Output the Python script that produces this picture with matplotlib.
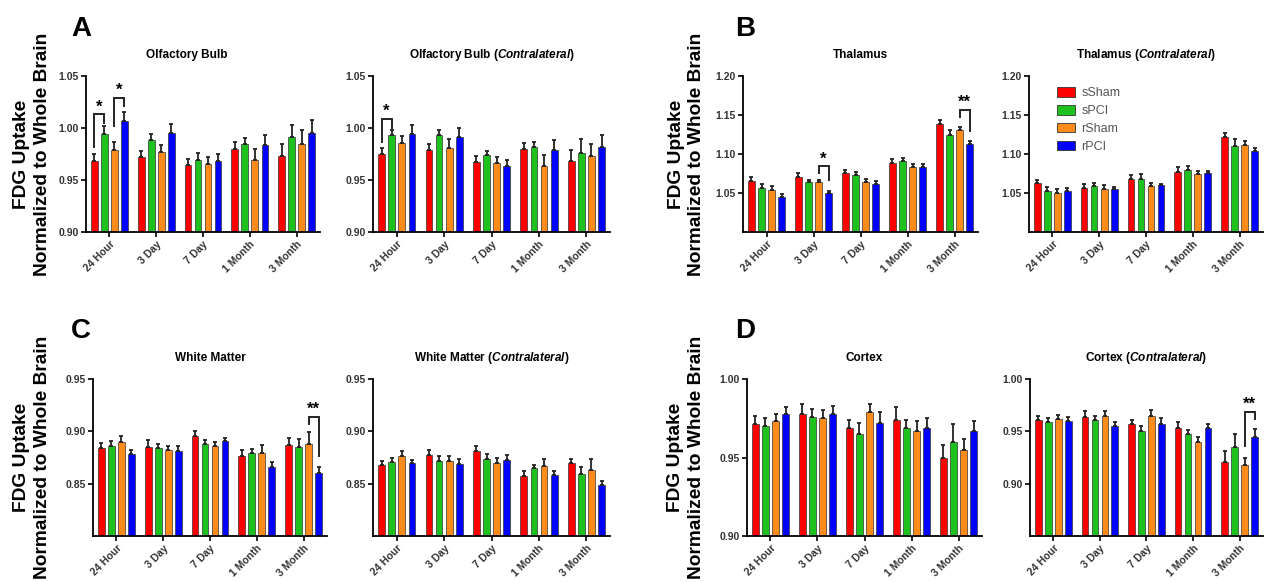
import numpy as np
import matplotlib
matplotlib.use("Agg")
import matplotlib.pyplot as plt
from matplotlib.patches import Patch

plt.rcParams['font.family'] = ['Liberation Sans', 'DejaVu Sans']
plt.rcParams['mathtext.fontset'] = 'custom'
plt.rcParams['mathtext.rm'] = 'Liberation Sans:bold'
plt.rcParams['mathtext.it'] = 'Liberation Sans:italic:bold'

groups = ['24 Hour', '3 Day', '7 Day', '1 Month', '3 Month']
series = ['sSham', 'sPCI', 'rSham', 'rPCI']
colors = ['#ff0000', '#1ec21e', '#ff8c1a', '#0000ff']

# Olfactory bulb
olf_mean = [[0.968, 0.972, 0.964, 0.980, 0.973],
            [0.994, 0.988, 0.969, 0.985, 0.991],
            [0.979, 0.977, 0.965, 0.969, 0.985],
            [1.007, 0.995, 0.968, 0.984, 0.995]]
olf_err = [[0.007, 0.006, 0.006, 0.007, 0.012],
           [0.008, 0.006, 0.007, 0.005, 0.012],
           [0.008, 0.007, 0.007, 0.011, 0.013],
           [0.008, 0.009, 0.007, 0.009, 0.013]]
olf_c_mean = [[0.975, 0.979, 0.967, 0.980, 0.968],
              [0.993, 0.993, 0.974, 0.982, 0.976],
              [0.986, 0.981, 0.966, 0.963, 0.973],
              [0.994, 0.991, 0.963, 0.979, 0.982]]
olf_c_err = [[0.006, 0.006, 0.006, 0.006, 0.011],
             [0.005, 0.005, 0.004, 0.005, 0.013],
             [0.006, 0.008, 0.006, 0.011, 0.012],
             [0.009, 0.009, 0.006, 0.009, 0.011]]

# Thalamus
thal_mean = [[1.066, 1.071, 1.075, 1.089, 1.138],
             [1.057, 1.064, 1.073, 1.091, 1.124],
             [1.054, 1.064, 1.064, 1.083, 1.131],
             [1.045, 1.050, 1.062, 1.083, 1.113]]
thal_err = [[0.005, 0.004, 0.004, 0.004, 0.005],
            [0.005, 0.003, 0.004, 0.004, 0.007],
            [0.005, 0.003, 0.004, 0.004, 0.004],
            [0.004, 0.003, 0.004, 0.004, 0.004]]
thal_c_mean = [[1.063, 1.056, 1.068, 1.077, 1.122],
               [1.053, 1.059, 1.068, 1.080, 1.110],
               [1.050, 1.055, 1.059, 1.074, 1.111],
               [1.053, 1.055, 1.060, 1.075, 1.104]]
thal_c_err = [[0.004, 0.005, 0.005, 0.006, 0.005],
              [0.005, 0.004, 0.006, 0.004, 0.009],
              [0.005, 0.005, 0.004, 0.004, 0.006],
              [0.004, 0.003, 0.002, 0.003, 0.004]]

# White matter
wm_mean = [[0.884, 0.885, 0.896, 0.876, 0.887],
           [0.886, 0.884, 0.888, 0.879, 0.885],
           [0.890, 0.882, 0.886, 0.879, 0.888],
           [0.878, 0.881, 0.891, 0.866, 0.860]]
wm_err = [[0.005, 0.007, 0.004, 0.006, 0.007],
          [0.005, 0.004, 0.004, 0.004, 0.008],
          [0.006, 0.004, 0.004, 0.008, 0.011],
          [0.004, 0.005, 0.003, 0.005, 0.006]]
wm_c_mean = [[0.868, 0.877, 0.881, 0.857, 0.870],
             [0.871, 0.872, 0.874, 0.865, 0.859],
             [0.876, 0.872, 0.870, 0.867, 0.863],
             [0.870, 0.869, 0.873, 0.858, 0.849]]
wm_c_err = [[0.004, 0.005, 0.005, 0.005, 0.004],
            [0.004, 0.004, 0.004, 0.003, 0.007],
            [0.005, 0.004, 0.005, 0.007, 0.011],
            [0.003, 0.005, 0.004, 0.004, 0.004]]

# Cortex
ctx_mean = [[0.9715, 0.978, 0.969, 0.974, 0.9495],
            [0.970, 0.976, 0.965, 0.969, 0.960],
            [0.973, 0.975, 0.979, 0.967, 0.955],
            [0.978, 0.978, 0.972, 0.969, 0.967]]
ctx_err = [[0.005, 0.006, 0.005, 0.008, 0.0085],
           [0.005, 0.005, 0.007, 0.005, 0.0115],
           [0.005, 0.005, 0.005, 0.006, 0.0065],
           [0.004, 0.005, 0.007, 0.006, 0.006]]
ctx_c_mean = [[0.9605, 0.964, 0.957, 0.953, 0.921],
              [0.959, 0.9605, 0.950, 0.9475, 0.935],
              [0.962, 0.965, 0.965, 0.940, 0.9175],
              [0.9596, 0.955, 0.957, 0.953, 0.9446]]
ctx_c_err = [[0.004, 0.005, 0.004, 0.006, 0.0105],
             [0.004, 0.004, 0.005, 0.004, 0.012],
             [0.004, 0.004, 0.005, 0.005, 0.0075],
             [0.004, 0.004, 0.006, 0.004, 0.008]]

# brackets: group, bar a, bar b, y leg a, y leg b, y top, label
olf_sig = [(0, 0, 1, 0.982, 1.005, 1.013, '*'), (0, 2, 3, 1.002, 1.021, 1.029, '*')]
olf_c_sig = [(0, 0, 1, 0.987, 1.000, 1.0086, '*')]
thal_sig = [(1, 2, 3, 1.076, 1.067, 1.084, '*'), (4, 2, 3, 1.147, 1.130, 1.157, '**')]
wm_sig = [(4, 2, 3, 0.907, 0.876, 0.914, '**')]
ctx_c_sig = [(4, 2, 3, 0.936, 0.962, 0.9685, '**')]

pitch = 0.214
width = 0.143

fig = plt.figure(figsize=(12.65, 5.82), dpi=100)


def panel(rect, title, means, errs, ylim, yticks, sig=None, title_x=0.5):
    ax = fig.add_axes(rect)
    x = np.arange(len(groups))
    for i in range(len(series)):
        xs = x + (i - 1.5) * pitch
        ax.bar(xs, means[i], width=width, color=colors[i], edgecolor='#333333',
               linewidth=0.5, bottom=0, zorder=2, label=series[i])
        ax.errorbar(xs, means[i], yerr=[np.zeros(len(groups)), errs[i]], fmt='none',
                    ecolor='#222222', elinewidth=1.3, capsize=1.6, capthick=1.3, zorder=3)
    ax.set_xlim(-0.5, len(groups) - 0.5)
    ax.set_ylim(*ylim)
    ax.set_yticks(yticks)
    ax.set_yticklabels(['%.2f' % t for t in yticks])
    ax.set_xticks(x)
    ax.set_xticklabels(groups, rotation=45, ha='right', rotation_mode='anchor')
    for s in ['top', 'right']:
        ax.spines[s].set_visible(False)
    for s in ['left', 'bottom']:
        ax.spines[s].set_linewidth(1.3)
    ax.tick_params(length=3.5, width=1.2, labelsize=7.5, pad=1.5)
    for lab in ax.get_xticklabels() + ax.get_yticklabels():
        lab.set_fontweight('bold')
        lab.set_color('#333333')
    ax.set_title(title, fontsize=8.5, fontweight='bold', pad=13, x=title_x)
    if sig:
        for g, a, b, ya, yb, top, lab in sig:
            xa = g + (a - 1.5) * pitch
            xb = g + (b - 1.5) * pitch
            ax.plot([xa, xa, xb, xb], [ya, top, top, yb], color='#222222', lw=1.4,
                    solid_joinstyle='miter', clip_on=False, zorder=4)
            ax.annotate(lab, xy=((xa + xb) / 2, top), xytext=(0, 0), textcoords='offset points',
                        ha='center', va='bottom', fontsize=12, fontweight='bold', annotation_clip=False)
    return ax


def ylab(ax, xpos):
    ax.set_ylabel('FDG Uptake\nNormalized to Whole Brain', fontsize=13.8, fontweight='bold',
                  linespacing=1.3)
    ax.yaxis.set_label_coords(xpos, 0.5)


axA1 = panel([0.068, 0.6014, 0.185, 0.268], 'Olfactory Bulb', olf_mean, olf_err,
             (0.90, 1.05), [0.90, 0.95, 1.00, 1.05], olf_sig, title_x=0.43)
axA2 = panel([0.2949, 0.6014, 0.1874, 0.268], r'Olfactory Bulb ($\mathit{Contralateral}$)',
             olf_c_mean, olf_c_err, (0.90, 1.05), [0.90, 0.95, 1.00, 1.05], olf_c_sig)
axB1 = panel([0.5874, 0.6014, 0.1858, 0.268], 'Thalamus', thal_mean, thal_err,
             (1.00, 1.20), [1.05, 1.10, 1.15, 1.20], thal_sig)
axB2 = panel([0.8134, 0.6014, 0.185, 0.268], r'Thalamus ($\mathit{Contralateral}$)',
             thal_c_mean, thal_c_err, (1.00, 1.20), [1.05, 1.10, 1.15, 1.20])
axC1 = panel([0.0735, 0.079, 0.185, 0.2698], 'White Matter', wm_mean, wm_err,
             (0.80, 0.95), [0.85, 0.90, 0.95], wm_sig)
axC2 = panel([0.2949, 0.079, 0.1874, 0.2698], r'White Matter ($\mathit{Contralateral}$)',
             wm_c_mean, wm_c_err, (0.80, 0.95), [0.85, 0.90, 0.95])
axD1 = panel([0.5905, 0.079, 0.1858, 0.2698], 'Cortex', ctx_mean, ctx_err,
             (0.90, 1.00), [0.90, 0.95, 1.00])
axD2 = panel([0.8142, 0.079, 0.1842, 0.2698], r'Cortex ($\mathit{Contralateral}$)',
             ctx_c_mean, ctx_c_err, (0.85, 1.00), [0.90, 0.95, 1.00], ctx_c_sig)

ylab(axA1, -0.15)
ylab(axB1, -0.16)
ylab(axC1, -0.178)
ylab(axD1, -0.177)

handles = [Patch(facecolor=c, edgecolor='#333333', linewidth=0.6) for c in colors]
leg = axB2.legend(handles, series, loc='upper left', bbox_to_anchor=(0.07, 1.0), frameon=False,
                  fontsize=9, handlelength=1.5, handleheight=0.8, handletextpad=0.5,
                  labelspacing=0.45)
for t in leg.get_texts():
    t.set_color('#555555')

for letter, xx, yy in [('A', 0.056, 0.938), ('B', 0.581, 0.938), ('C', 0.056, 0.419), ('D', 0.581, 0.419)]:
    fig.text(xx, yy, letter, fontsize=20, fontweight='bold', va='baseline')

plt.savefig('out.png', dpi=100)
